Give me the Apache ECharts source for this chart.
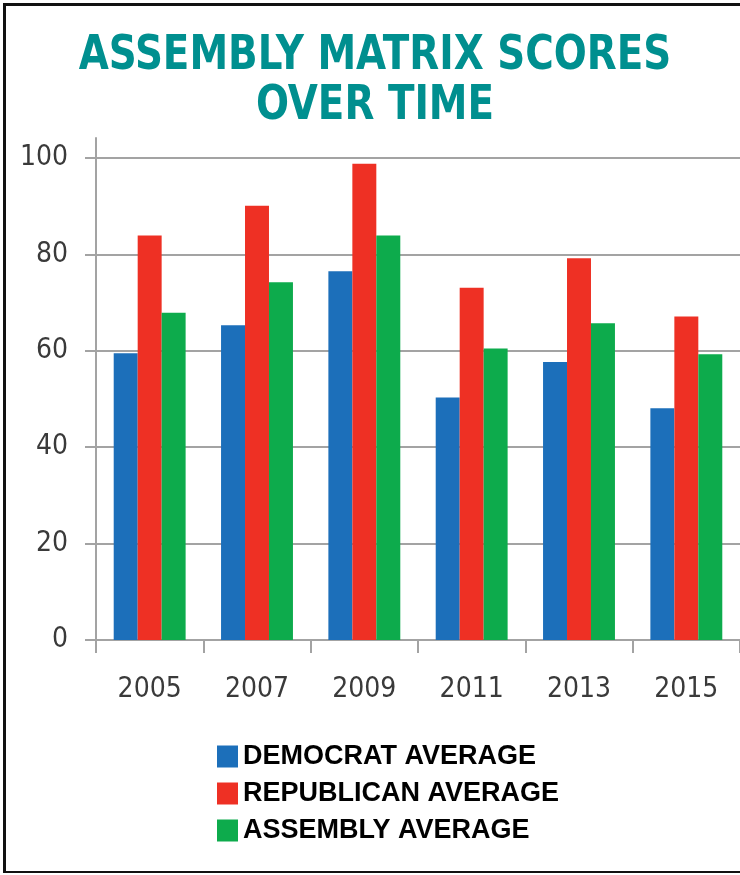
<!DOCTYPE html>
<html>
<head>
<meta charset="utf-8">
<script src="https://cdn.jsdelivr.net/npm/echarts@6/dist/echarts.min.js"></script>
<style>
  html, body { margin: 0; padding: 0; background: #fff; overflow: hidden; }
  #chart { position: absolute; left: 0; top: 0; width: 740px; height: 875px; }
  #frame { position: absolute; left: 3px; top: 3px; width: 760px; height: 870px; box-sizing: border-box;
           border-left: 3px solid #111; border-top: 3px solid #111; border-bottom: 2px solid #111;
           pointer-events: none; }
</style>
</head>
<body>
<div id="chart"></div>
<div id="frame"></div>
<script>
const titleLines = ['ASSEMBLY MATRIX SCORES', 'OVER TIME'];
const years = ['2005', '2007', '2009', '2011', '2013', '2015'];
const seriesNames = ['DEMOCRAT AVERAGE', 'REPUBLICAN AVERAGE', 'ASSEMBLY AVERAGE'];
const democrat = [59.5, 65.3, 76.5, 50.3, 57.7, 48.1];
const republican = [83.9, 90.1, 98.8, 73.1, 79.2, 67.1];
const assembly = [67.9, 74.2, 83.9, 60.5, 65.7, 59.3];
const colors = ['#1c6fba', '#ee3024', '#0dab4c'];

const narrow = '"DejaVu Sans Condensed", "Liberation Sans", sans-serif';
const axisGray = '#a3a3a3';

const chart = echarts.init(document.getElementById('chart'), null, { renderer: 'canvas' });
chart.setOption({
  animation: false,
  backgroundColor: '#fff',
  color: colors,
  graphic: titleLines.map(function (line, i) {
    return {
      type: 'text',
      x: 375,
      y: 57 + i * 50,
      scaleX: 0.9,
      style: {
        text: line,
        fontFamily: narrow,
        fontWeight: 'bold',
        fontSize: 48,
        fill: '#008f8f',
        align: 'center',
        verticalAlign: 'middle'
      }
    };
  }),
  legend: {
    orient: 'vertical',
    left: 212,
    top: 738,
    itemWidth: 21,
    itemHeight: 22,
    itemGap: 10,
    icon: 'rect',
    textStyle: {
      fontFamily: '"Liberation Sans", Arial, sans-serif',
      fontWeight: 'bold',
      fontSize: 27,
      color: '#000'
    },
    data: seriesNames
  },
  grid: [
    { left: 96, right: -7.6, top: 158, bottom: 235 },
    { left: 96, right: -7.6, top: 138, height: 20 }
  ],
  xAxis: [
    {
      type: 'category',
      gridIndex: 0,
      data: years,
      axisLine: { lineStyle: { color: axisGray, width: 2 } },
      axisTick: { show: true, length: 13, lineStyle: { color: axisGray, width: 2 } },
      axisLabel: { margin: 36, fontFamily: narrow, fontSize: 28, color: '#3a3a3a' }
    },
    {
      type: 'category',
      gridIndex: 1,
      data: years,
      show: false
    }
  ],
  yAxis: [
    {
      type: 'value',
      gridIndex: 0,
      min: 0,
      max: 100,
      interval: 20,
      axisLine: { show: true, lineStyle: { color: axisGray, width: 2 } },
      axisTick: { show: true, length: 11, lineStyle: { color: axisGray, width: 2 } },
      splitLine: { show: true, lineStyle: { color: axisGray, width: 2 } },
      axisLabel: { margin: 28, fontFamily: narrow, fontSize: 28, color: '#3a3a3a' }
    },
    {
      type: 'value',
      gridIndex: 1,
      min: 0,
      max: 1,
      axisLine: { show: true, lineStyle: { color: axisGray, width: 2 } },
      axisTick: { show: false },
      splitLine: { show: false },
      axisLabel: { show: false }
    }
  ],
  series: [
    { name: seriesNames[0], type: 'bar', data: democrat, barGap: '0%', barCategoryGap: '33%', itemStyle: { color: colors[0] } },
    { name: seriesNames[1], type: 'bar', data: republican, barGap: '0%', barCategoryGap: '33%', itemStyle: { color: colors[1] } },
    { name: seriesNames[2], type: 'bar', data: assembly, barGap: '0%', barCategoryGap: '33%', itemStyle: { color: colors[2] } }
  ]
});
</script>
</body>
</html>
